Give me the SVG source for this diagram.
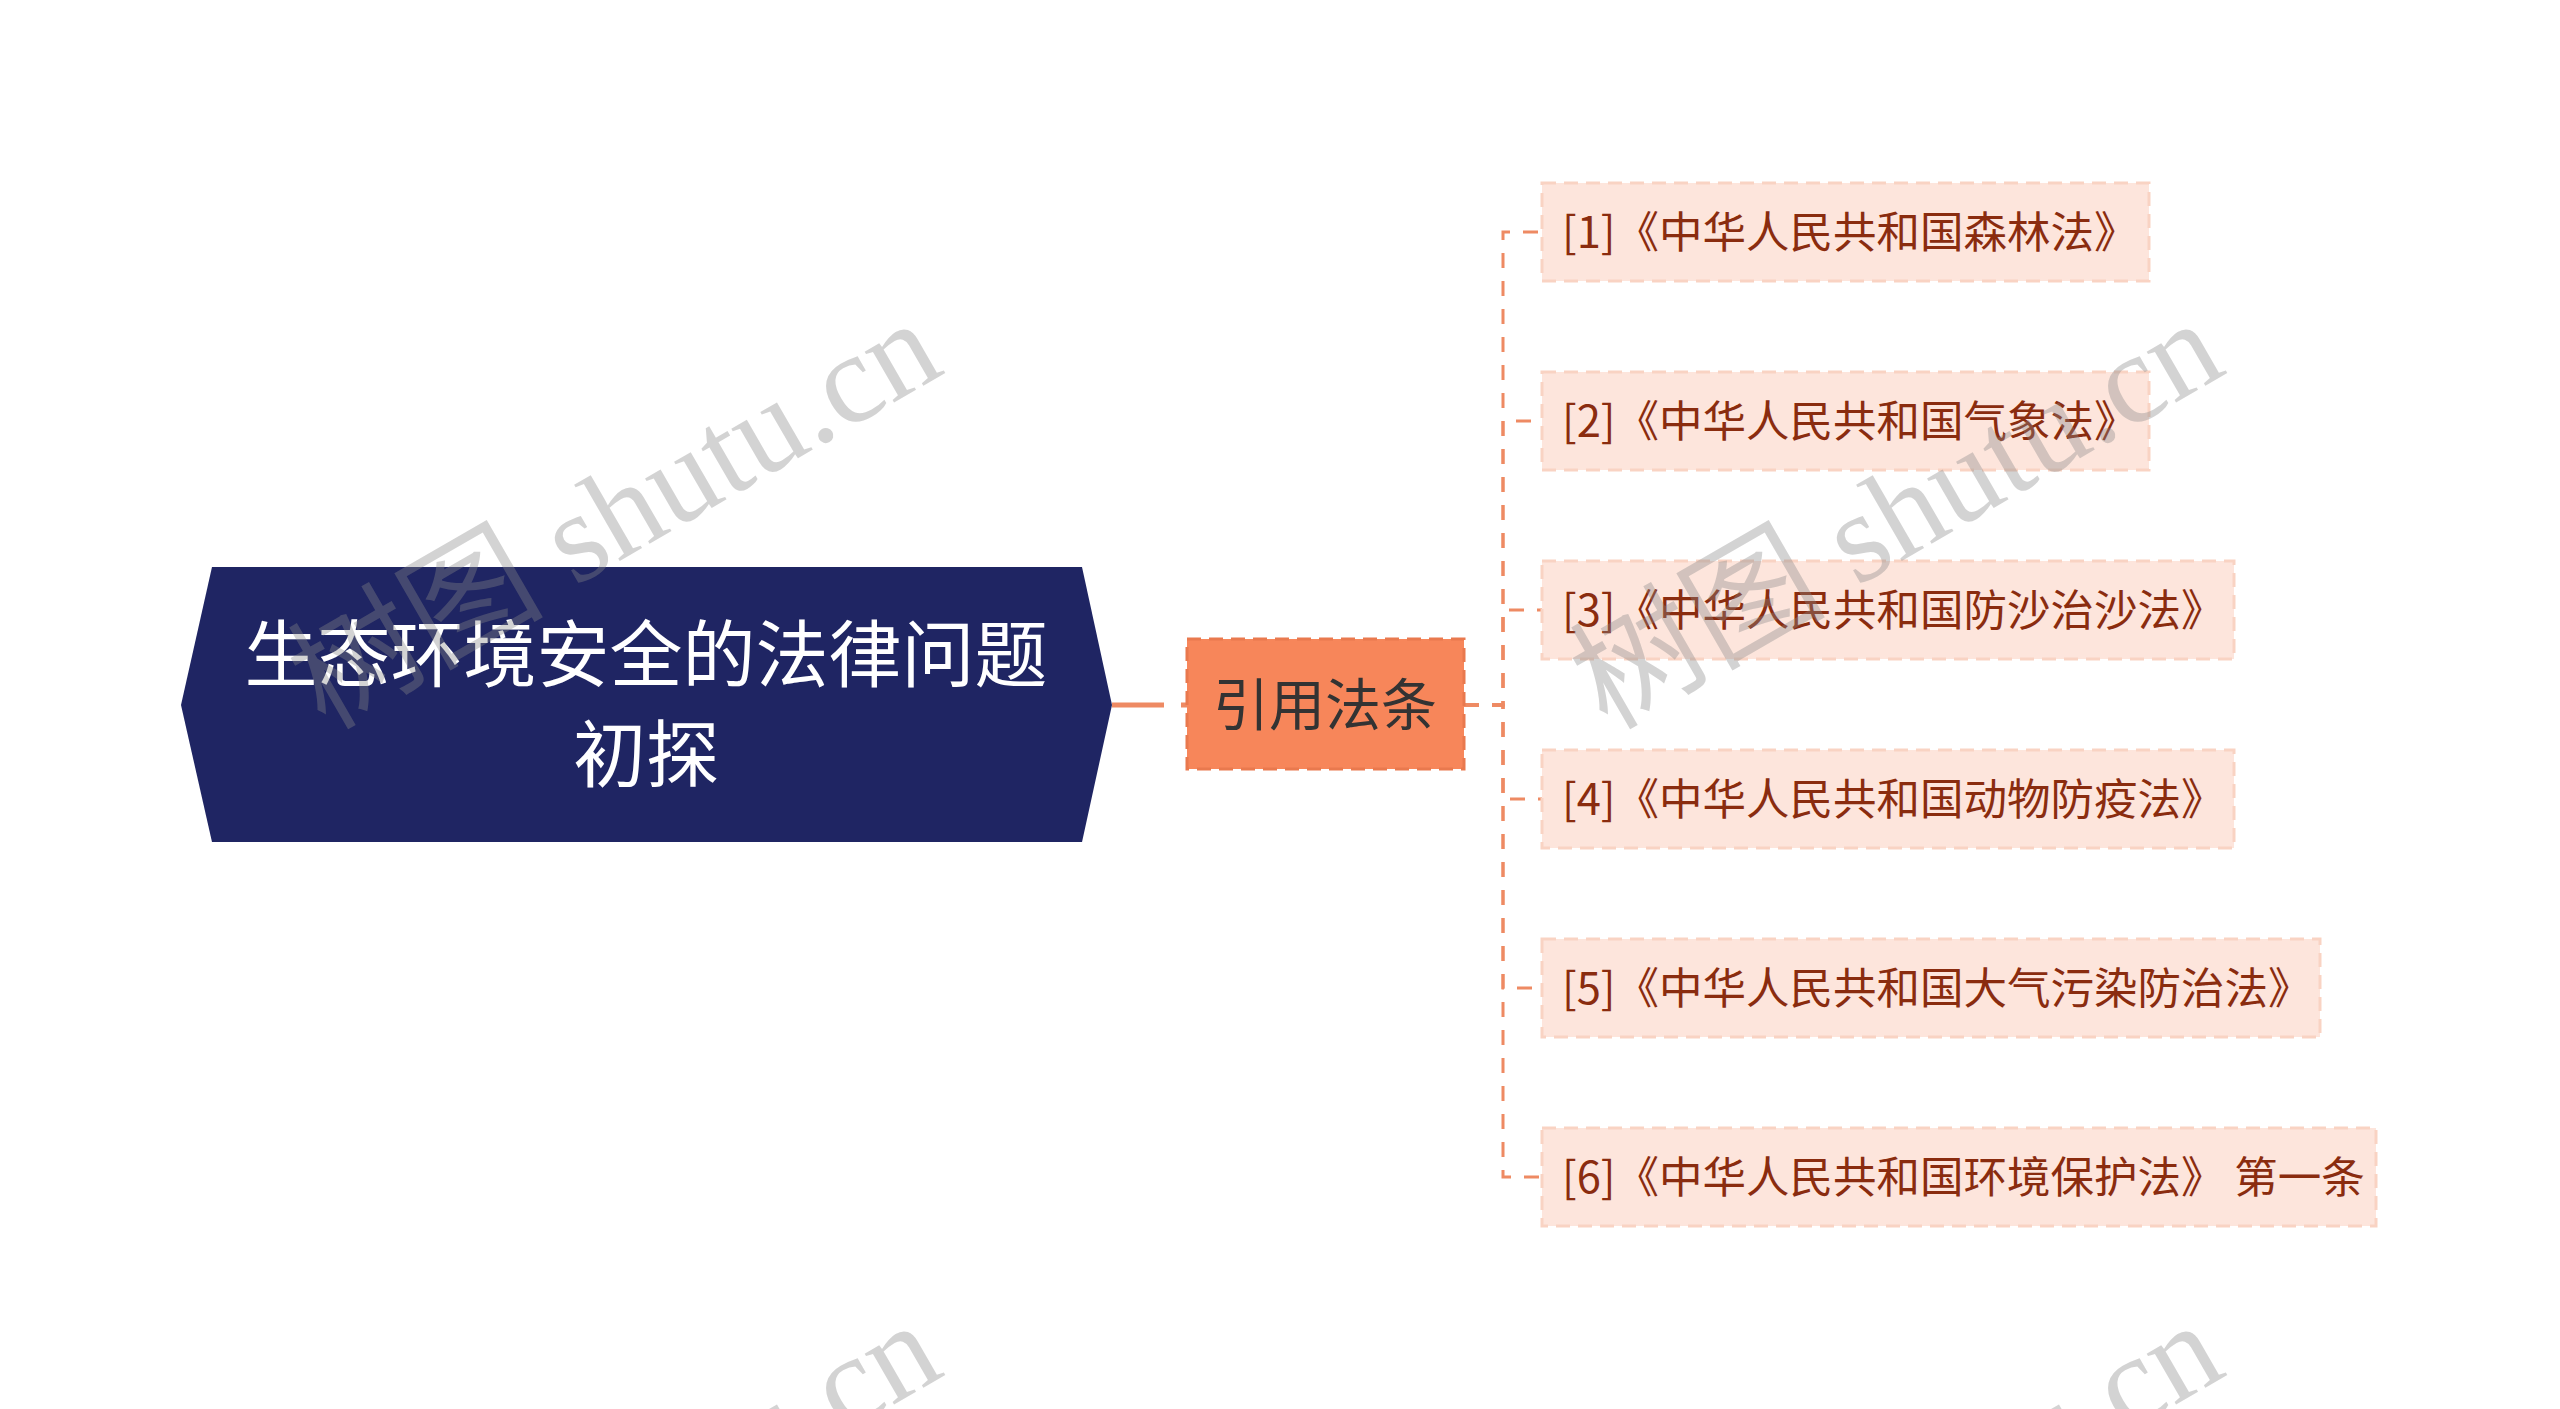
<svg xmlns="http://www.w3.org/2000/svg" width="2560" height="1409" viewBox="0 0 2560 1409">
<style>
.cjk{font-family:"Noto Sans CJK SC","Noto Sans",sans-serif}
.child rect{fill:#fde5dc;stroke:#f9d3c3;stroke-width:3;stroke-dasharray:14,8}
.child text{fill:#8a2c0f;font-size:43.5px}
.conn{fill:none;stroke:#ee8a63;stroke-width:3;stroke-dasharray:15,13}
.wm{font-family:"Liberation Serif","Noto Sans CJK SC",serif;font-size:128px;fill:#888;fill-opacity:0.37}
</style>
<rect width="2560" height="1409" fill="#ffffff"/>
<g id="connectors">
<line x1="1112" y1="705" x2="1187" y2="705" stroke="#ee8a63" stroke-width="5" stroke-dasharray="52,17"/>
<path class="conn" d="M1464,705 H1503 V232 H1542"/>
<path class="conn" d="M1464,705 H1503 V421 H1542"/>
<path class="conn" d="M1464,705 H1503 V610 H1542"/>
<path class="conn" d="M1464,705 H1503 V799 H1542"/>
<path class="conn" d="M1464,705 H1503 V988 H1542"/>
<path class="conn" d="M1464,705 H1503 V1177 H1542"/>
</g>
<g id="root">
<polygon points="212,567 1082,567 1112,705 1082,842 212,842 181,705" fill="#1f2563"/>
<text class="cjk" x="646" y="681" font-size="73" fill="#ffffff" text-anchor="middle">生态环境安全的法律问题</text>
<text class="cjk" x="646" y="781" font-size="73" fill="#ffffff" text-anchor="middle">初探</text>
</g>
<g id="branch">
<rect x="1187" y="639" width="277" height="130" fill="#f7865a" stroke="#e9794e" stroke-width="3" stroke-dasharray="14,8"/>
<text class="cjk" x="1325" y="725" font-size="56" fill="#333333" text-anchor="middle">引用法条</text>
</g>
<g id="c1" class="child cjk">
<rect x="1542" y="183" width="607" height="98"/>
<text x="1562" y="248">[1]《中华人民共和国森林法》</text>
</g>
<g id="c2" class="child cjk">
<rect x="1542" y="372" width="607" height="98"/>
<text x="1562" y="437">[2]《中华人民共和国气象法》</text>
</g>
<g id="c3" class="child cjk">
<rect x="1542" y="561" width="692" height="98"/>
<text x="1562" y="626">[3]《中华人民共和国防沙治沙法》</text>
</g>
<g id="c4" class="child cjk">
<rect x="1542" y="750" width="692" height="98"/>
<text x="1562" y="815">[4]《中华人民共和国动物防疫法》</text>
</g>
<g id="c5" class="child cjk">
<rect x="1542" y="939" width="778" height="98"/>
<text x="1562" y="1004">[5]《中华人民共和国大气污染防治法》</text>
</g>
<g id="c6" class="child cjk">
<rect x="1542" y="1128" width="834" height="98"/>
<text x="1562" y="1193">[6]《中华人民共和国环境保护法》 第一条</text>
</g>
<g id="watermarks">
<text class="wm" text-anchor="end" transform="translate(947,372) rotate(-30)">树图 shutu.cn</text>
<text class="wm" text-anchor="end" transform="translate(2229,372) rotate(-30)">树图 shutu.cn</text>
<text class="wm" text-anchor="end" transform="translate(947,1374) rotate(-30)">树图 shutu.cn</text>
<text class="wm" text-anchor="end" transform="translate(2229,1374) rotate(-30)">树图 shutu.cn</text>
</g>
</svg>
